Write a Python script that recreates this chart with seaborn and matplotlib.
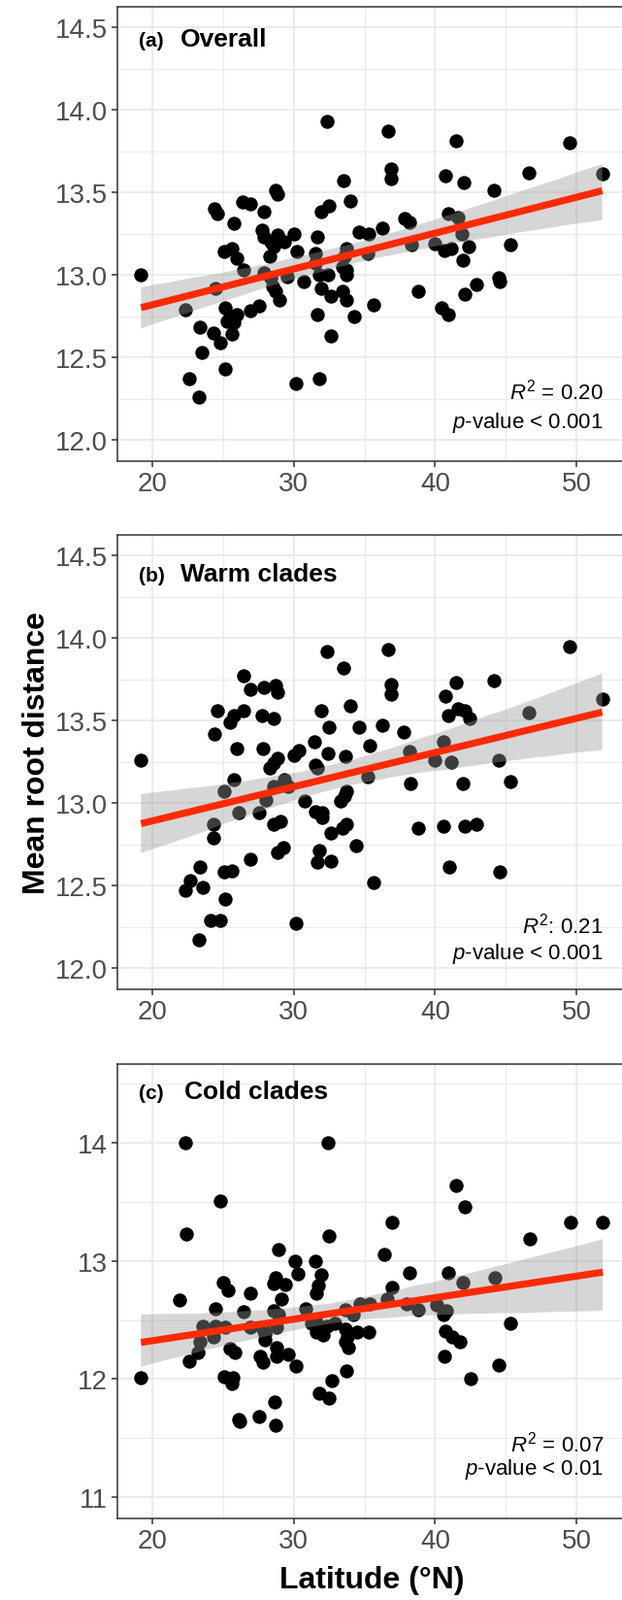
import numpy as np
import pandas as pd
import seaborn as sns
import matplotlib.pyplot as plt
from matplotlib.collections import PolyCollection
from matplotlib.ticker import MultipleLocator, FormatStrFormatter

# Data: latitude (degrees N) vs mean root distance
lat_a = [32.35, 36.66, 41.45, 49.53, 36.90, 36.90, 33.51, 40.73, 42.04, 46.66, 51.82, 44.19,
         28.72, 28.84, 33.98, 26.35, 26.94, 24.38, 24.57, 27.89, 31.92, 32.46, 25.76, 37.84,
         38.20, 40.92, 41.64, 36.30, 34.64, 35.28, 27.77, 30.02, 31.68, 41.87,
         27.89, 28.84, 28.36, 29.31, 28.60, 28.32, 25.64, 25.05, 26.00, 30.26, 31.56, 31.56,
         33.70, 33.58, 35.24, 38.32, 39.98, 40.69, 41.16, 42.35, 45.31, 41.99, 19.20, 26.47,
         24.45, 27.89, 28.36, 28.48, 28.72, 28.96, 29.55, 30.73, 31.80, 32.39, 31.92, 32.63,
         33.46, 33.70, 33.70, 33.46, 33.70, 38.79, 44.48, 44.60, 42.94, 42.11, 40.45, 40.92,
         35.66, 34.29, 31.68, 32.63, 22.32, 25.17, 25.52, 25.28, 25.76, 26.00, 26.94, 27.54,
         23.39, 24.34, 24.81, 25.64, 23.51, 25.17, 22.63, 23.27, 30.14, 31.80]
dist_a = [13.93, 13.87, 13.81, 13.80, 13.64, 13.58, 13.57, 13.60, 13.56, 13.62, 13.61, 13.51,
          13.51, 13.49, 13.45, 13.44, 13.43, 13.40, 13.37, 13.38, 13.38, 13.42, 13.31, 13.34,
          13.32, 13.37, 13.35, 13.28, 13.26, 13.25, 13.27, 13.25, 13.23, 13.25,
          13.23, 13.24, 13.20, 13.20, 13.17, 13.11, 13.16, 13.14, 13.10, 13.14, 13.13, 13.07,
          13.16, 13.11, 13.13, 13.18, 13.19, 13.15, 13.16, 13.17, 13.18, 13.09, 13.00, 13.03,
          12.92, 13.01, 12.98, 12.93, 12.90, 12.85, 12.99, 12.96, 13.00, 13.00, 12.92, 12.87,
          13.05, 13.03, 13.00, 12.90, 12.85, 12.90, 12.98, 12.96, 12.94, 12.88, 12.80, 12.76,
          12.82, 12.75, 12.76, 12.63, 12.79, 12.80, 12.75, 12.72, 12.71, 12.76, 12.78, 12.81,
          12.68, 12.65, 12.59, 12.64, 12.53, 12.43, 12.37, 12.26, 12.34, 12.37]

lat_b = [32.35, 36.66, 49.53, 33.51, 26.47, 26.94, 27.89, 28.72, 28.84, 36.90, 36.90, 41.45,
         44.19, 40.73, 33.98, 24.57, 26.42, 25.76, 25.52, 27.73, 28.60, 31.92, 32.46, 41.64,
         42.11, 40.92, 42.46, 46.66, 51.82, 24.38, 34.64, 36.30, 37.80,
         26.00, 27.84, 31.45, 30.02, 30.38, 32.39, 33.63, 35.36, 38.20, 40.57, 39.98, 41.16,
         44.48, 28.84, 28.60, 28.32, 31.56, 31.68, 25.76, 29.31, 28.60, 29.64, 25.05, 35.24,
         38.27, 41.99, 45.31, 33.70, 33.58, 33.34, 28.01, 30.78, 26.11, 27.54, 31.56, 32.04,
         32.04, 24.34, 24.34, 28.60, 29.03, 33.70, 33.46, 32.63, 38.84, 40.57, 42.11, 42.94,
         34.41, 29.27, 28.84, 31.80, 31.68, 32.63, 26.90, 23.39, 25.05, 25.64, 40.97, 44.60,
         22.68, 22.32, 23.55, 35.66, 25.17, 24.10, 24.81, 30.14, 23.27, 19.20]
dist_b = [13.92, 13.93, 13.95, 13.82, 13.77, 13.69, 13.70, 13.71, 13.67, 13.72, 13.66, 13.73,
          13.74, 13.65, 13.59, 13.56, 13.56, 13.53, 13.49, 13.53, 13.51, 13.56, 13.46, 13.57,
          13.56, 13.53, 13.51, 13.55, 13.63, 13.42, 13.46, 13.47, 13.43,
          13.33, 13.33, 13.37, 13.29, 13.32, 13.30, 13.28, 13.35, 13.31, 13.37, 13.26, 13.25,
          13.26, 13.27, 13.24, 13.21, 13.23, 13.21, 13.14, 13.14, 13.10, 13.10, 13.07, 13.16,
          13.12, 13.12, 13.13, 13.07, 13.04, 13.01, 13.02, 13.01, 12.94, 12.94, 12.95, 12.94,
          12.91, 12.87, 12.79, 12.87, 12.89, 12.87, 12.85, 12.82, 12.85, 12.86, 12.86, 12.87,
          12.74, 12.73, 12.70, 12.71, 12.64, 12.65, 12.66, 12.61, 12.58, 12.59, 12.61, 12.58,
          12.53, 12.47, 12.49, 12.52, 12.42, 12.29, 12.29, 12.27, 12.17, 13.26]

lat_c = [22.31, 32.41, 41.49, 42.08, 24.83, 36.93, 49.60, 51.86, 22.38, 32.50, 46.72, 28.92,
         36.39, 30.09, 31.51, 30.33, 31.91, 31.75, 31.63, 28.75, 28.56, 29.39, 29.15, 25.02,
         25.33, 26.96, 21.91, 24.43, 26.44, 28.56, 28.92, 30.87, 38.16, 40.94, 36.93, 41.96,
         44.25, 36.58, 34.69, 35.40, 33.63, 34.22, 37.99, 38.82, 40.12, 40.83, 40.59, 23.56,
         24.43, 25.14, 26.96, 24.31, 23.37, 23.25, 22.62, 27.85, 27.97, 27.97, 28.80, 31.27,
         31.63, 32.34, 32.92, 31.63, 32.10, 33.63, 33.80, 33.63, 33.87, 34.46, 35.28, 40.71,
         41.18, 41.77, 45.31, 25.50, 25.85, 27.62, 27.85, 28.80, 28.80, 29.63, 30.17, 25.09,
         25.73, 25.61, 19.20, 32.69, 33.70, 40.64, 42.48, 44.48, 31.82, 32.50, 28.63, 26.08,
         26.15, 27.55, 28.73]
dist_c = [14.00, 14.00, 13.64, 13.46, 13.51, 13.33, 13.33, 13.33, 13.23, 13.21, 13.19, 13.10,
          13.06, 13.00, 13.00, 12.89, 12.88, 12.79, 12.73, 12.86, 12.81, 12.80, 12.68, 12.82,
          12.75, 12.73, 12.67, 12.60, 12.57, 12.58, 12.55, 12.60, 12.90, 12.90, 12.78, 12.82,
          12.86, 12.68, 12.64, 12.64, 12.59, 12.55, 12.64, 12.59, 12.63, 12.58, 12.55, 12.45,
          12.45, 12.44, 12.44, 12.36, 12.32, 12.23, 12.15, 12.42, 12.38, 12.33, 12.44, 12.47,
          12.48, 12.45, 12.47, 12.40, 12.37, 12.42, 12.36, 12.32, 12.27, 12.40, 12.40, 12.41,
          12.36, 12.32, 12.47, 12.26, 12.23, 12.19, 12.14, 12.27, 12.19, 12.21, 12.11, 12.02,
          12.01, 11.96, 12.01, 11.99, 12.07, 12.19, 12.00, 12.12, 11.88, 11.84, 11.81, 11.66,
          11.64, 11.68, 11.61]

tags = ['(a)', '(b)', '(c)']
titles = ['Overall', 'Warm clades', 'Cold clades']
r2_labels = [r'$R^2$ = 0.20', r'$R^2$: 0.21', r'$R^2$ = 0.07']
p_labels = [r'$p$-value < 0.001', r'$p$-value < 0.001', r'$p$-value < 0.01']

sns.set_style('white')
plt.rcParams['font.family'] = ['Liberation Sans', 'DejaVu Sans']
plt.rcParams['text.color'] = 'black'
plt.rcParams['mathtext.fontset'] = 'custom'
plt.rcParams['mathtext.rm'] = 'Liberation Sans'
plt.rcParams['mathtext.it'] = 'Liberation Sans:italic'
plt.rcParams['mathtext.bf'] = 'Liberation Sans:bold'

W, H = 641, 1649
fig = plt.figure(figsize=(W / 100, H / 100), dpi=100)

# layout in pixels
left_px = 121
px_per_deg = 14.57
xlim = (17.53, 53.54)
panel_h = 468
panels = [
    dict(top=8, ylim=(11.871, 14.624), major=0.5, fmt='%.1f', tag_y=0.914, r2_y=12.30, p_y=12.11),
    dict(top=552, ylim=(11.871, 14.624), major=0.5, fmt='%.1f', tag_y=0.900, r2_y=12.26, p_y=12.09),
    dict(top=1097, ylim=(10.82, 14.668), major=1.0, fmt='%d', tag_y=0.925, r2_y=11.46, p_y=11.24),
]
data = [(lat_a, dist_a), (lat_b, dist_b), (lat_c, dist_c)]


def px_to_x(px):
    return xlim[0] + (px - left_px) / px_per_deg


for i, (p, (lat, dist)) in enumerate(zip(panels, data)):
    width_px = (xlim[1] - xlim[0]) * px_per_deg
    ax = fig.add_axes([left_px / W, 1 - (p['top'] + panel_h) / H, width_px / W, panel_h / H])
    df = pd.DataFrame({'lat': lat, 'dist': dist})

    sns.regplot(data=df, x='lat', y='dist', ax=ax, ci=95, seed=1, truncate=True,
                scatter_kws=dict(s=108, color='black', alpha=1, linewidths=0, zorder=1),
                line_kws=dict(color='#FF2A00', lw=5.2, zorder=3, solid_capstyle='butt'))
    # grey confidence ribbon drawn over the points like geom_smooth
    for coll in ax.collections:
        if isinstance(coll, PolyCollection):
            coll.set_facecolor('#999999')
            coll.set_alpha(0.4)
            coll.set_edgecolor('none')
            coll.set_zorder(2)

    ax.set_xlim(*xlim)
    ax.set_ylim(*p['ylim'])
    ax.xaxis.set_major_locator(MultipleLocator(10))
    ax.xaxis.set_minor_locator(MultipleLocator(5))
    ax.yaxis.set_major_locator(MultipleLocator(p['major']))
    ax.yaxis.set_minor_locator(MultipleLocator(p['major'] / 2))
    ax.yaxis.set_major_formatter(FormatStrFormatter(p['fmt']))
    ax.grid(which='major', color='#EBEBEB', lw=1.4, zorder=0)
    ax.grid(which='minor', color='#EBEBEB', lw=0.8, zorder=0)
    ax.set_axisbelow(True)
    ax.set_xlabel('')
    ax.set_ylabel('')
    for s in ax.spines.values():
        s.set_color('#333333')
        s.set_linewidth(1.1)
    ax.tick_params(which='major', length=4, width=1.1, color='#333333',
                   labelcolor='#4D4D4D', labelsize=20, pad=3.5, left=True, bottom=True)
    ax.tick_params(which='minor', length=0)

    tr = ax.get_xaxis_transform()
    ax.text(px_to_x(143), p['tag_y'], tags[i], transform=tr, fontsize=15,
            fontweight='bold', va='baseline', ha='left', color='black')
    ax.text(px_to_x(186 if i < 2 else 190), p['tag_y'], titles[i], transform=tr,
            fontsize=19, fontweight='bold', va='baseline', ha='left', color='black')

    ax.text(51.9, p['r2_y'], r2_labels[i], fontsize=16, ha='right', va='center', color='black')
    ax.text(51.9, p['p_y'], p_labels[i], fontsize=16, ha='right', va='center', color='black')

fig.text(38 / W, 1 - 776 / H, 'Mean root distance', rotation=90, fontsize=23,
         fontweight='bold', ha='center', va='center', color='black')
fig.text(383 / W, 1 - 1628 / H, 'Latitude (°N)', fontsize=23, fontweight='bold',
         ha='center', va='center', color='black')

fig.savefig('out.png', dpi=100)
